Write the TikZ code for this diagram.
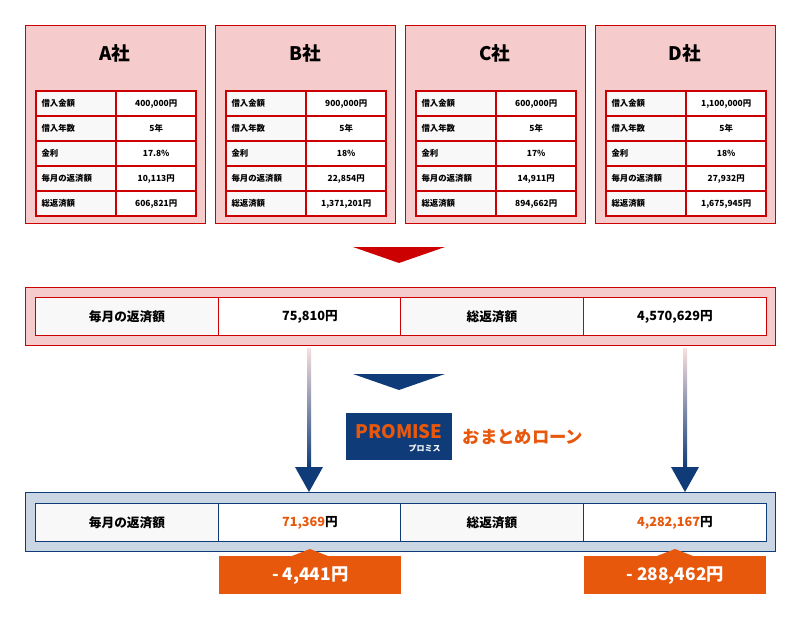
\documentclass[tikz,border=0pt]{standalone}
\usepackage{fontspec}
\setmainfont{Noto Sans CJK JP}
\usetikzlibrary{positioning}

\definecolor{pinkbg}{HTML}{F5CBCB}
\definecolor{redline}{HTML}{CC0000}
\definecolor{navy}{HTML}{0F3C78}
\definecolor{bluebg}{HTML}{CBD6E4}
\definecolor{orangeacc}{HTML}{E8580C}
\definecolor{cellgray}{HTML}{F8F8F8}

\begin{document}
\begin{tikzpicture}[x=0.75pt, y=-0.75pt]
    % Define the styles
    \tikzset{
      company/.style={draw=redline, fill=pinkbg, line width=0.6pt},
      keycell/.style={draw=redline, fill=cellgray, line width=1.8pt, text width=52pt, align=left, inner sep=4pt, minimum height=18.75pt, font=\bfseries\fontsize{6.3}{8}\selectfont, anchor=north west},
      valcell/.style={draw=redline, fill=white, line width=1.8pt, minimum width=60pt, minimum height=18.75pt, font=\bfseries\fontsize{6.3}{8}\selectfont, anchor=north west},
      sumcell/.style={draw=#1, line width=0.9pt, minimum width=137pt, minimum height=28.5pt, font=\bfseries\fontsize{9.5}{12}\selectfont, anchor=north west},
      savebox/.style={fill=orangeacc, text=white, minimum width=136.5pt, minimum height=28.5pt, font=\bfseries\fontsize{13}{16}\selectfont, anchor=north west}
    }
    \useasboundingbox (0,0) rectangle (800,625);

    % Company boxes with their tables
    \foreach \c/\x/\amt/\rate/\mon/\tot in {A/25/{400,000円}/{17.8\%}/{10,113円}/{606,821円},
        B/215/{900,000円}/{18\%}/{22,854円}/{1,371,201円},
        C/405/{600,000円}/{17\%}/{14,911円}/{894,662円},
        D/595/{1,100,000円}/{18\%}/{27,932円}/{1,675,945円}} {
      \draw[company] (\x,25) rectangle +(180,198);
      \node[font=\bfseries\fontsize{14}{16}\selectfont] (title\c) at (\x+90,53) {\c 社};
      \node[keycell] (k1\c) at (\x+10,90) {借入金額};
      \node[keycell] (k2\c) at (\x+10,115) {借入年数};
      \node[keycell] (k3\c) at (\x+10,140) {金利};
      \node[keycell] (k4\c) at (\x+10,165) {毎月の返済額};
      \node[keycell] (k5\c) at (\x+10,190) {総返済額};
      \node[valcell] (v1\c) at (\x+90,90) {\amt};
      \node[valcell] (v2\c) at (\x+90,115) {5年};
      \node[valcell] (v3\c) at (\x+90,140) {\rate};
      \node[valcell] (v4\c) at (\x+90,165) {\mon};
      \node[valcell] (v5\c) at (\x+90,190) {\tot};
    }

    % Red triangle
    \fill[redline] (353,247) -- (445,247) -- (399,263) -- cycle;

    % Summary of the four loans
    \draw[company] (25,287) rectangle (775,345);
    \node[sumcell=redline, fill=cellgray] (sumkeyA) at (35,297) {毎月の返済額};
    \node[sumcell=redline, fill=white] (sumvalA) at (218,297) {75,810円};
    \node[sumcell=redline, fill=cellgray] (sumkeyB) at (400,297) {総返済額};
    \node[sumcell=redline, fill=white] (sumvalB) at (583,297) {4,570,629円};

    % Navy triangle
    \fill[navy] (353,374) -- (445,374) -- (399,390) -- cycle;

    % Gradient arrows
    \foreach \ax in {309,685} {
      \shade[top color=pinkbg!60, bottom color=navy] (\ax-2,348) rectangle (\ax+2,468);
      \fill[navy] (\ax-14,467) -- (\ax+14,467) -- (\ax,492) -- cycle;
    }

    % Promise logo
    \node[fill=navy, minimum width=79.5pt, minimum height=35pt, anchor=north west] (logo) at (346,413) {};
    \node[text=orangeacc, font=\bfseries\fontsize{14}{16}\selectfont, inner sep=0pt] (brand) at (399,432) {PROMISE};
    \node[text=white, font=\bfseries\fontsize{6}{7}\selectfont, inner sep=0pt, anchor=east] (brandkana) at (441,448) {プロミス};
    \node[text=orangeacc, font=\bfseries\fontsize{13}{15}\selectfont, anchor=west] (product) at (458,437) {おまとめローン};

    % Result after consolidation
    \draw[draw=navy, fill=bluebg, line width=0.6pt] (25,492) rectangle (775,551);
    \node[sumcell=navy, fill=cellgray] (newkeyA) at (35,503) {毎月の返済額};
    \node[sumcell=navy, fill=white] (newvalA) at (218,503) {\textcolor{orangeacc}{71,369}円};
    \node[sumcell=navy, fill=cellgray] (newkeyB) at (400,503) {総返済額};
    \node[sumcell=navy, fill=white] (newvalB) at (583,503) {\textcolor{orangeacc}{4,282,167}円};

    % Savings
    \node[savebox] (saveA) at (219,556) {- 4,441円};
    \node[savebox] (saveB) at (584,556) {- 288,462円};
    \foreach \tx in {310,675}
      \fill[orangeacc] (\tx-18,556) -- (\tx,549) -- (\tx+18,556) -- cycle;
\end{tikzpicture}
\end{document}
